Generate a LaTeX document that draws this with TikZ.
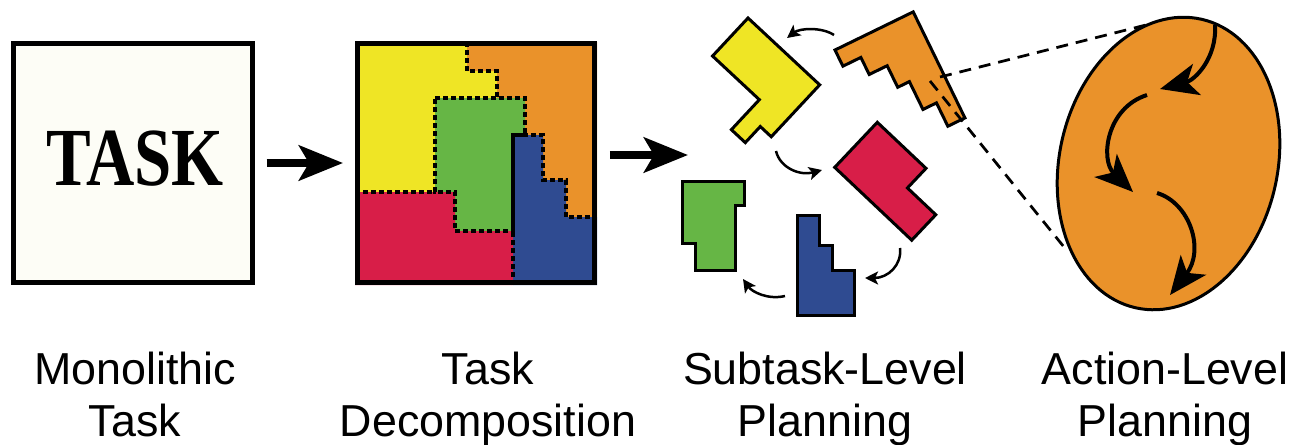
\documentclass[tikz,border=0pt]{standalone}
\usepackage{fontspec}
\usetikzlibrary{arrows.meta,shapes.geometric}
\newfontfamily\labfont{Liberation Sans}
\newfontfamily\stencilfont[FakeStretch=0.81]{Liberation Serif}

\definecolor{pyellow}{HTML}{EFE525}
\definecolor{porange}{HTML}{EA922A}
\definecolor{pgreen}{HTML}{66B645}
\definecolor{pblue}{HTML}{2F4B91}
\definecolor{pred}{HTML}{D81E48}
\definecolor{paper}{HTML}{FDFDF6}

\tikzset{
  piece/.style={draw=black, line width=0.06cm, line join=miter},
  seam/.style={line width=0.065cm, dash pattern=on 0.1cm off 0.06cm},
  bigarrow/.style={line width=0.16cm, -{Stealth[length=0.88cm,width=0.7cm,inset=0.2cm]}},
  hop/.style={line width=0.05cm, -{Stealth[length=0.26cm,width=0.26cm,inset=0.06cm]}},
  act/.style={line width=0.08cm, -{Stealth[length=0.76cm,width=0.64cm,inset=0.2cm]}},
  cone/.style={line width=0.055cm, dash pattern=on 0.24cm off 0.16cm},
  lbl/.style={font=\labfont\fontsize{25.5}{29.5}\selectfont, align=center, anchor=north, inner sep=0pt},
}

\begin{document}
\begin{tikzpicture}[x=0.02cm, y=-0.02cm]
\useasboundingbox (0,0) rectangle (1310,444);

% ---------- monolithic task ----------
\node[draw, line width=0.1cm, fill=paper, minimum size=4.77cm, inner sep=0pt] (task) at (133,163) {};
\node[font=\stencilfont\bfseries\fontsize{47}{47}\selectfont, inner sep=0pt, anchor=base] (word) at (135,185) {TASK};

% ---------- decomposition square ----------
\fill[pyellow] (355,42) -- (467,42) -- (467,71) -- (497,71) -- (497,98) -- (435,98) -- (435,192) -- (355,192) -- cycle;
\fill[porange] (467,42) -- (597,42) -- (597,217) -- (566,217) -- (566,180) -- (543,180) -- (543,135) -- (525,135) -- (525,98) -- (497,98) -- (497,71) -- (467,71) -- cycle;
\fill[pgreen] (435,98) -- (525,98) -- (525,135) -- (513,135) -- (513,231) -- (455,231) -- (455,192) -- (435,192) -- cycle;
\fill[pblue] (513,135) -- (543,135) -- (543,180) -- (566,180) -- (566,217) -- (597,217) -- (597,285) -- (513,285) -- cycle;
\fill[pred] (355,192) -- (455,192) -- (455,231) -- (513,231) -- (513,285) -- (355,285) -- cycle;
% seams between the parts
\draw[seam] (467,42) -- (467,71) -- (497,71) -- (497,98);
\draw[seam] (435,98) -- (525,98) -- (525,135) -- (513,135) -- (513,231) -- (455,231) -- (455,192) -- (435,192) -- cycle;
\draw[seam] (355,192) -- (435,192);
\draw[seam] (513,285) -- (513,135) -- (543,135) -- (543,180) -- (566,180) -- (566,217) -- (597,217);
\node[draw, line width=0.1cm, minimum width=4.74cm, minimum height=4.77cm, inner sep=0pt] (decomp) at (476,163) {};

% ---------- main arrows ----------
\coordinate (sub) at (688,155);
\draw[bigarrow, shorten <=0.24cm, shorten >=0.24cm] (task.east) -- (decomp.west);
\draw[bigarrow, shorten <=0.26cm] (decomp.east |- sub) -- (sub);

% ---------- subtask pieces ----------
\begin{scope}[shift={(748,18)}, rotate=-43]
  \filldraw[piece, fill=pyellow] (0,0) -- (98,0) -- (98,71) -- (83,71) -- (83,93) -- (64,93) -- (64,52) -- (0,52) -- cycle;
\end{scope}
\begin{scope}[shift={(835,50)}, rotate=26]
  \filldraw[piece, fill=porange] (0,0) -- (87,0) -- (87,118) -- (68,118) -- (68,92) -- (53,92) -- (53,61) -- (40,61) -- (40,37) -- (20,37) -- (20,18) -- (0,18) -- cycle;
\end{scope}
\begin{scope}[shift={(877.3,122.3)}, rotate=-43.4]
  \filldraw[piece, fill=pred] (0,0) -- (67,0) -- (67,27) -- (106,27) -- (106,62) -- (0,62) -- cycle;
\end{scope}
\filldraw[piece, fill=pblue] (797,215) -- (819,215) -- (819,245) -- (832,245) -- (832,270) -- (854,270) -- (854,315.5) -- (797,315.5) -- cycle;
\filldraw[piece, fill=pgreen] (682,181) -- (744,181) -- (744,205) -- (735.5,205) -- (735.5,270.5) -- (695,270.5) -- (695,243.5) -- (682,243.5) -- cycle;

% arrows between the pieces
\coordinate (oy1) at (834,35);  \coordinate (oy2) at (787,38);
\coordinate (yr1) at (776,151); \coordinate (yr2) at (822,170);
\coordinate (rb1) at (900,248); \coordinate (rb2) at (865,278);
\coordinate (bg1) at (785,296); \coordinate (bg2) at (743,279);
\draw[hop] (oy1) .. controls (822,27) and (800,28) .. (oy2);
\draw[hop] (yr1) .. controls (780,168) and (800,176) .. (yr2);
\draw[hop] (rb1) .. controls (902,265) and (888,278) .. (rb2);
\draw[hop] (bg1) .. controls (768,300) and (752,292) .. (bg2);

% ---------- zoom cone and action-level view ----------
\coordinate (c1) at (940,77);  \coordinate (c2) at (1150,24);
\coordinate (c3) at (930,81);  \coordinate (c4) at (1068,252);
\draw[cone] (c1) -- (c2);
\draw[cone] (c3) -- (c4);
\node[ellipse, draw, line width=0.06cm, fill=porange, minimum width=4.36cm, minimum height=5.92cm, inner sep=0pt, rotate=-13] (ell) at (1168.5,163.5) {};

\coordinate (s1) at (1215,25);  \coordinate (e1) at (1160,89);
\coordinate (s2) at (1147,95);  \coordinate (e2) at (1133,192);
\coordinate (s3) at (1157,193); \coordinate (e3) at (1170,295);
\draw[act] (s1) .. controls (1217,58) and (1195,80) .. (e1);
\draw[act] (s2) .. controls (1106,108) and (1100,160) .. (e2);
\draw[act] (s3) .. controls (1190,203) and (1205,250) .. (e3);

% ---------- captions ----------
\node[lbl] (l1) at (135,352) {Monolithic\\Task};
\node[lbl] (l2) at (488,352) {Task\\Decomposition};
\node[lbl] (l3) at (825,352) {Subtask-Level\\Planning};
\node[lbl] (l4) at (1165,352) {Action-Level\\Planning};
\end{tikzpicture}
\end{document}
